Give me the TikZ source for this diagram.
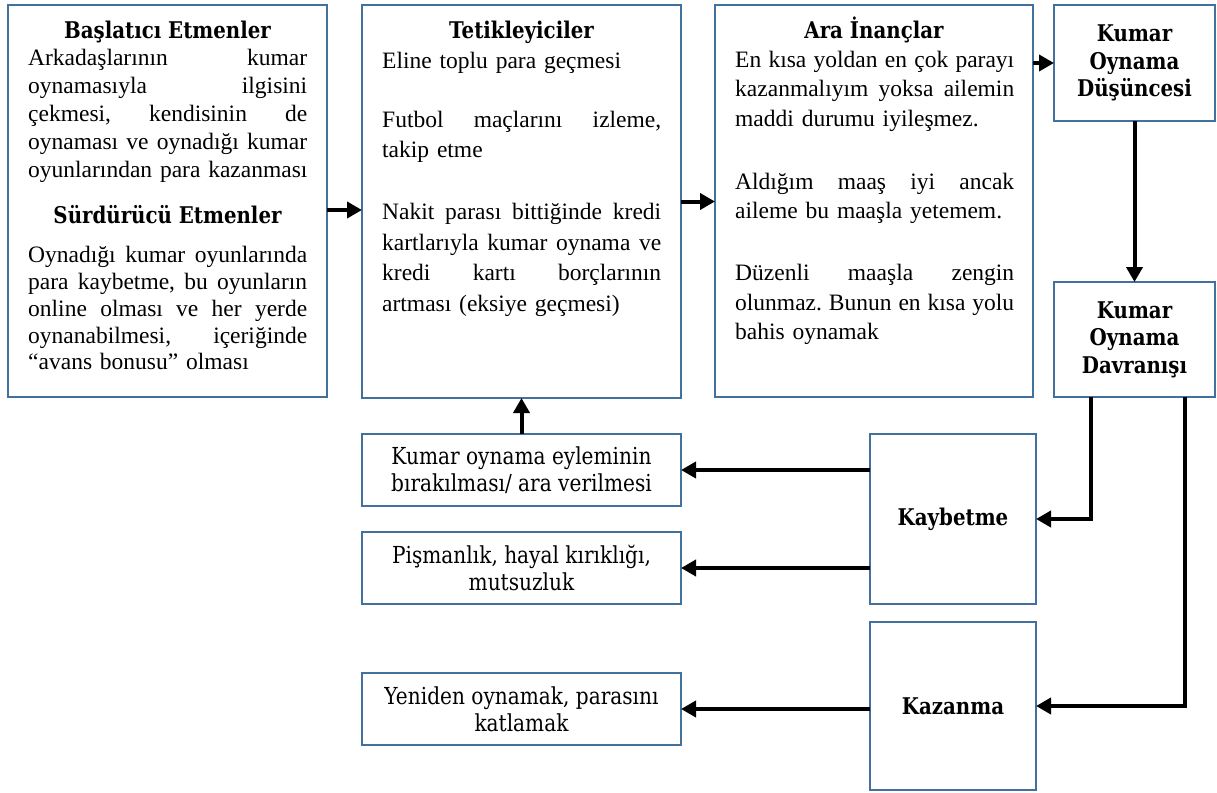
\documentclass[tikz,border=0pt]{standalone}
\usepackage{fontspec}
\setmainfont{Liberation Serif}
\newfontfamily\camb[FakeStretch=0.86]{DejaVu Serif}
\usetikzlibrary{arrows.meta}
\frenchspacing
\definecolor{boxblue}{RGB}{65,113,156}
\newcommand{\jl}[1]{\leavevmode\hbox to 279pt{\spaceskip=0.25em plus 1fil\relax\xspaceskip=0.25em plus 1fil\relax #1}}
\tikzset{
  box/.style={draw=boxblue, line width=1.3pt, fill=white, inner sep=0pt, outer sep=0pt, anchor=north west},
  body/.style={font=\fontsize{23.5}{27.3}\selectfont, text width=330pt, align=left, inner sep=0pt, anchor=base west},
  ttl/.style={font=\camb\bfseries\fontsize{23}{27}\selectfont, inner sep=0pt, anchor=base},
  camreg/.style={font=\camb\fontsize{23.4}{27}\selectfont, align=center},
  cambold/.style={font=\camb\bfseries\fontsize{23}{27.5}\selectfont, align=center},
  arr/.style={line width=4pt, -{Triangle[length=15pt,width=16pt]}},
}
\begin{document}
\begin{tikzpicture}[x=1pt,y=-1pt]
\useasboundingbox (0,0) rectangle (1217,792);
\fill[white] (0,0) rectangle (1217,792);

% top row boxes
\node[box, minimum width=319pt, minimum height=392pt] (b1) at (8,5) {};
\node[box, minimum width=319pt, minimum height=393pt] (b2) at (362,5) {};
\node[box, minimum width=318pt, minimum height=392pt] (b3) at (715,5) {};
\node[box, cambold, minimum width=161pt, minimum height=116pt] (b4) at (1054,5) {Kumar\\Oynama\\Düşüncesi};
\node[box, cambold, minimum width=161pt, minimum height=115pt] (b5) at (1054,282) {Kumar\\Oynama\\Davranışı};

% lower boxes
\node[box, camreg, minimum width=319pt, minimum height=72pt] (k1) at (362,434) {Kumar oynama eyleminin\\bırakılması/ ara verilmesi};
\node[box, camreg, minimum width=319pt, minimum height=72pt] (k2) at (362,532) {Pişmanlık, hayal kırıklığı,\\mutsuzluk};
\node[box, camreg, minimum width=319pt, minimum height=72pt] (k3) at (362,673) {Yeniden oynamak, parasını\\katlamak};
\node[box, cambold, minimum width=166pt, minimum height=170pt] (L) at (870,434) {Kaybetme};
\node[box, cambold, minimum width=166pt, minimum height=168pt] (W) at (870,622) {Kazanma};

% texts of box 1
\node[ttl] (t1) at (167.5,39) {Başlatıcı Etmenler};
\node[body, font=\fontsize{23.5}{28}\selectfont] (t1a) at (28,65.3) {\jl{Arkadaşlarının kumar}\\
\jl{oynamasıyla ilgisini}\\
\jl{çekmesi, kendisinin de}\\
\jl{oynaması ve oynadığı kumar}\\
oyunlarından para kazanması};
\node[ttl] (t1b) at (167.5,223) {Sürdürücü Etmenler};
\node[body, font=\fontsize{23.5}{26.9}\selectfont] (t1c) at (28,262.3) {\jl{Oynadığı kumar oyunlarında}\\
\jl{para kaybetme, bu oyunların}\\
\jl{online olması ve her yerde}\\
\jl{oynanabilmesi, içeriğinde}\\
“avans bonusu” olması};

% texts of box 2
\node[ttl] (t2) at (521.5,39) {Tetikleyiciler};
\node[body, font=\fontsize{23.5}{30.5}\selectfont] (t2a) at (382,68.3) {Eline toplu para geçmesi\\[28.5pt]
\jl{Futbol maçlarını izleme,}\\
takip etme\\[31.5pt]
\jl{Nakit parası bittiğinde kredi}\\
\jl{kartlarıyla kumar oynama ve}\\
\jl{kredi kartı borçlarının}\\
artması (eksiye geçmesi)};

% texts of box 3
\node[ttl] (t3) at (874,39) {Ara İnançlar};
\node[body, font=\fontsize{23.5}{29.5}\selectfont] (t3a) at (735,67) {\jl{En kısa yoldan en çok parayı}\\
\jl{kazanmalıyım yoksa ailemin}\\
maddi durumu iyileşmez.\\[33.5pt]
\jl{Aldığım maaş iyi ancak}\\
aileme bu maaşla yetemem.\\[32.5pt]
\jl{Düzenli maaşla zengin}\\
\jl{olunmaz. Bunun en kısa yolu}\\
bahis oynamak};

% connectors
\draw[arr] ([yshift=-9pt]b1.east) -- ([yshift=-9pt]b1.east -| b2.west);
\draw[arr] (b2.east) -- (b2.east -| b3.west);
\draw[arr] (b3.east |- b4.west) -- (b4.west);
\draw[arr] (b4.south) -- (b4.south |- b5.north);
\draw[arr] (k1.north) -- (k1.north |- b2.south);
\draw[arr] (L.west |- k1.east) -- (k1.east);
\draw[arr] (L.west |- k2.east) -- (k2.east);
\draw[arr] (W.west |- k3.east) -- (k3.east);
\draw[arr] ([xshift=-43.5pt]b5.south) |- (L.east);
\draw[arr] ([xshift=50.5pt]b5.south) |- (W.east);
\end{tikzpicture}
\end{document}
